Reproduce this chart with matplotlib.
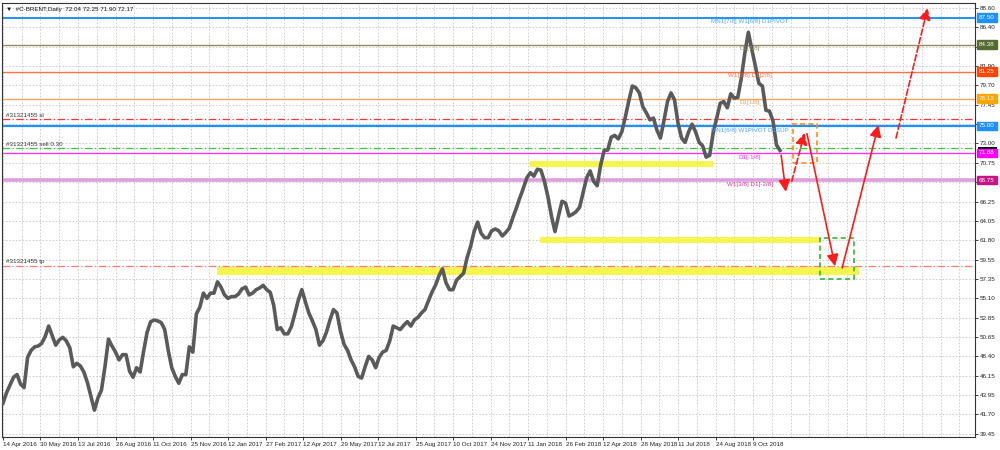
import numpy as np
import matplotlib.pyplot as plt
import matplotlib.transforms as mtransforms
from matplotlib.patches import Rectangle, FancyArrowPatch

# closes, one value every 3 daily bars
closes = [43.0, 44.2, 45.1, 46.0, 46.3, 45.2, 44.8, 48.3, 49.1, 49.5,
          49.6, 49.9, 50.7, 51.9, 50.8, 49.7, 50.3, 50.6, 50.2, 49.4,
          47.2, 47.6, 47.3, 46.6, 45.4, 43.8, 42.2, 43.6, 44.5, 47.2,
          50.4, 49.6, 48.9, 48.0, 48.6, 48.6, 46.7, 46.0, 47.1, 46.6,
          49.0, 51.2, 52.4, 52.6, 52.5, 52.3, 51.5, 49.1, 47.1, 46.1,
          45.3, 46.3, 46.3, 49.5, 48.9, 53.3, 54.1, 55.7, 55.1, 55.7,
          55.7, 57.0, 56.4, 55.5, 55.1, 55.3, 55.3, 55.6, 56.2, 56.4,
          55.5, 55.7, 56.1, 56.3, 56.6, 56.1, 55.8, 54.3, 51.5, 51.7,
          51.0, 51.0, 51.8, 53.3, 54.9, 56.1, 54.7, 53.4, 52.5, 51.5,
          49.7, 50.2, 51.2, 52.6, 53.8, 53.4, 51.3, 49.8, 49.1, 48.0,
          47.2, 46.1, 45.9, 47.2, 48.4, 48.0, 47.1, 48.3, 48.9, 49.1,
          50.2, 51.9, 51.7, 51.5, 52.0, 52.4, 51.9, 52.6, 52.9, 53.4,
          53.8, 54.8, 55.8, 56.6, 57.7, 58.5, 56.9, 56.1, 56.1, 57.2,
          57.6, 58.0, 59.8, 61.1, 62.8, 63.9, 62.6, 62.1, 62.1, 62.9,
          63.1, 62.9, 62.3, 62.7, 63.2, 64.4, 65.5, 66.7, 67.8, 69.0,
          69.6, 69.2, 70.0, 69.9, 68.6, 66.8, 64.6, 62.8, 64.6, 66.3,
          66.1, 64.6, 64.8, 65.1, 65.6, 67.3, 69.0, 69.8, 68.6, 68.1,
          70.5, 72.2, 72.2, 73.7, 73.9, 73.5, 74.3, 76.0, 77.9, 79.6,
          79.4, 78.8, 77.2, 76.5, 75.7, 75.9, 74.5, 73.6, 75.6, 77.8,
          78.8, 78.0, 75.3, 73.6, 73.1, 74.3, 75.2, 74.3, 73.1, 72.7,
          71.4, 71.6, 74.2, 75.9, 77.6, 77.8, 77.1, 78.7, 78.2, 78.3,
          80.5, 83.4, 85.8, 83.8, 81.9, 79.9, 79.6, 76.8, 76.7, 75.6,
          72.8, 72.17]
step = 3

date_labels = ['14 Apr 2016', '30 May 2016', '13 Jul 2016', '26 Aug 2016', '11 Oct 2016',
               '25 Nov 2016', '12 Jan 2017', '27 Feb 2017', '12 Apr 2017', '29 May 2017',
               '12 Jul 2017', '25 Aug 2017', '10 Oct 2017', '24 Nov 2017', '11 Jan 2018',
               '26 Feb 2018', '12 Apr 2018', '28 May 2018', '11 Jul 2018', '24 Aug 2018',
               '9 Oct 2018']
date_bars = list(range(0, 641, 32))

price_ticks = [88.60, 86.40, 84.15, 81.90, 79.70, 77.45, 75.25, 73.00, 70.75, 68.50,
               66.25, 64.05, 61.80, 59.55, 57.35, 55.10, 52.85, 50.65, 48.40, 46.15,
               43.95, 41.70, 39.45]
hidden_ticks = [84.15, 75.25, 68.50]   # covered by the level boxes on the axis

levels = [87.50, 84.38, 81.25, 78.13, 75.00, 71.88, 68.75]
level_names = ['MN1[7/8] W1[6/8] D1PIVOT', 'D1[7/8]', 'W1[5/8] D1[2/8]', 'D1[1/8]',
               'MN1[6/8] W1PIVOT D1SUP', 'D1[-1/8]', 'W1[3/8] D1[-2/8]']
level_colors = ['#1e90ff', '#8c8c5e', '#ff7043', '#f4a460', '#1e90ff', '#ff33ff', '#dda0dd']
level_widths = [1.4, 1.0, 1.0, 1.0, 1.6, 1.0, 2.6]
name_colors = ['#4da6ff', '#8c8c5e', '#ff7043', '#f4a460', '#4da6ff', '#ff33ff', '#d63a9a']
box_colors = ['#1e90ff', '#556b2f', '#ff4500', '#ffa500', '#1e90ff', '#ff00ff', '#c71585']

order_prices = [75.76, 72.40, 58.85]
order_names = ['#31321455 sl', '#31321455 sell 0.30', '#31321455 tp']
order_colors = ['#ff3333', '#33cc33', '#ff7777']

bid = 72.17

zone_start = [450, 458, 183]
zone_end = [606, 697, 730]
zone_low = [70.25, 61.52, 57.79]
zone_high = [70.95, 62.21, 58.72]

box_start = [674, 697]
box_end = [695, 726]
box_low = [70.7, 57.3]
box_high = [75.2, 62.1]
box_edge = ['#ff8c1a', '#33b833']

# arrows: bar0, price0, bar1, price1, dashed
arrows = [(664, 71.6, 668, 67.4, False),
          (673, 68.6, 684, 74.2, True),
          (686, 74.1, 710, 58.8, False),
          (716, 58.6, 747, 75.1, False),
          (762, 73.6, 789, 88.6, True)]


def main():
    plt.rcParams['font.family'] = ['Liberation Sans', 'DejaVu Sans']
    fs = 4.5
    fig = plt.figure(figsize=(10, 4.5), dpi=100)
    ax = fig.add_axes([0.002, 13 / 450, 0.973, 434 / 450])
    ax.set_xlim(-0.85, 829.4)
    ax.set_ylim(39.1, 89.18)

    # grid
    ax.set_xticks(date_bars)
    ax.set_xticks(range(0, 830, 16), minor=True)
    ax.set_xticklabels(date_labels, fontsize=fs, ha='left')
    ax.set_yticks(price_ticks)
    ax.set_yticklabels(['' if t in hidden_ticks else '%.2f' % t for t in price_ticks], fontsize=fs)
    ax.yaxis.tick_right()
    ax.tick_params(axis='both', length=2, width=0.6, pad=1.5, colors='#222222')
    ax.tick_params(axis='x', which='minor', length=0)
    ax.grid(True, which='both', axis='x', color='#c8c8c8', ls=(0, (2, 2)), lw=0.6)
    ax.grid(True, which='major', axis='y', color='#c8c8c8', ls=(0, (2, 2)), lw=0.6)
    ax.set_axisbelow(True)
    for s in ax.spines.values():
        s.set_color('#333333')
        s.set_linewidth(0.8)

    # price
    bars = np.arange(len(closes)) * step
    ax.plot(bars, closes, color='#5a5a5a', lw=2.6, zorder=3)

    # zones
    for x0, x1, lo, hi in zip(zone_start, zone_end, zone_low, zone_high):
        ax.add_patch(Rectangle((x0, lo), x1 - x0, hi - lo, fc='#f5f53c', ec='none', alpha=0.9, zorder=2))

    # level lines
    for lv, nm, c, w, nc in zip(levels, level_names, level_colors, level_widths, name_colors):
        ax.axhline(lv, color=c, lw=w, zorder=2.5)
        ax.annotate(nm, (637, lv), xytext=(0, -1.2), textcoords='offset points',
                    ha='center', va='top', fontsize=fs, color=nc, zorder=4)

    # orders
    for p, nm, c in zip(order_prices, order_names, order_colors):
        ax.axhline(p, color=c, lw=0.9, ls=(0, (6, 2, 1, 2)), zorder=2.5)
        ax.annotate(nm, (0.004, p), xycoords=('axes fraction', 'data'), xytext=(0, 1),
                    textcoords='offset points', ha='left', va='bottom', fontsize=fs, color='#333333')

    # dashed boxes
    for x0, x1, lo, hi, ec in zip(box_start, box_end, box_low, box_high, box_edge):
        ax.add_patch(Rectangle((x0, lo), x1 - x0, hi - lo, fill=False, ec=ec, lw=1.2,
                               ls=(0, (3, 2)), zorder=4))

    # arrows
    for x0, y0, x1, y1, dashed in arrows:
        ax.add_patch(FancyArrowPatch((x0, y0), (x1, y1), arrowstyle='-|>,head_length=1.0,head_width=0.5',
                                     mutation_scale=7, color='#ff1a1a', lw=1.2,
                                     ls='--' if dashed else '-', shrinkA=0, shrinkB=0, zorder=5))

    # axis price boxes (the bid box sits mostly under the 71.88 box)
    tr = mtransforms.blended_transform_factory(ax.transAxes, ax.transData)
    ax.add_patch(Rectangle((1.003, 72.0), 0.02, 0.55, transform=tr, fc='black', ec='none',
                           clip_on=False, zorder=6))
    for lv, bc in zip(levels, box_colors):
        ax.text(1.004, lv, '%.2f' % lv, transform=tr, fontsize=fs, color='white', va='center',
                ha='left', clip_on=False, zorder=7,
                bbox=dict(boxstyle='square,pad=0.3', fc=bc, ec=bc))

    ax.text(0.004, 0.99, '\u25bc  #C-BRENT,Daily  72.04 72.25 71.90 72.17', transform=ax.transAxes,
            ha='left', va='top', fontsize=fs, color='#111111')

    fig.savefig('out.png', dpi=100, facecolor='white')


if __name__ == '__main__':
    main()
